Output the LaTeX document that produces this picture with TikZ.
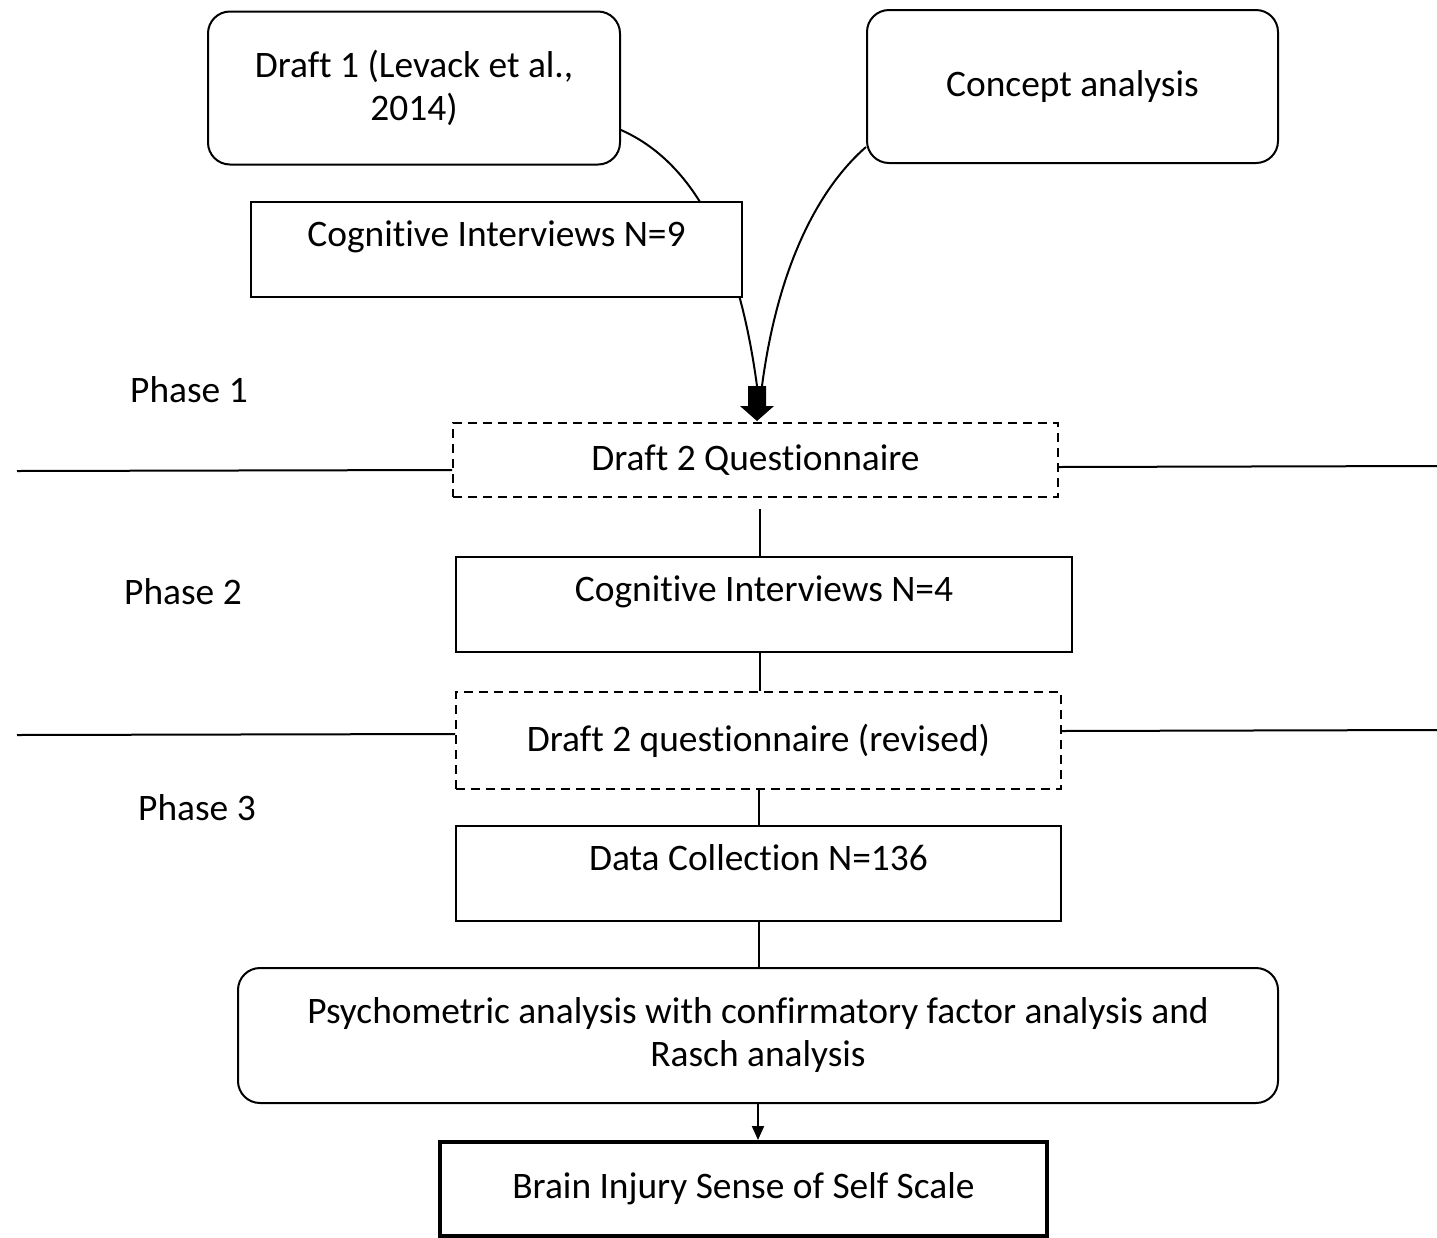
\documentclass[tikz,border=0pt]{standalone}
\usepackage{fontspec}
\setmainfont{Carlito}[Ligatures={NoCommon}]
\usetikzlibrary{arrows.meta,calc,backgrounds}

\begin{document}
\begin{tikzpicture}[x=0.5pt,y=0.5pt,yscale=-1,
  every node/.style={font=\fontsize{18.7pt}{21.5pt}\selectfont, inner sep=0pt},
  roundbox/.style={draw, line width=1pt, rounded corners=11pt, fill=white, align=center},
  plainbox/.style={draw, line width=1pt, fill=white, align=center},
  draftbox/.style={draw, line width=1pt, dash pattern=on 4.5pt off 3pt, fill=white, align=center},
  toptext/.style={text height=13pt, text depth=16.5pt},
  link/.style={line width=1pt}]
				\useasboundingbox (0,0) rectangle (1437,1238);

				% Boxes
				\node[roundbox, minimum width=206pt, minimum height=76.5pt] (draftOne) at (414,88) {Draft 1 (Levack et al.,\\2014)};
				\node[roundbox, minimum width=205.5pt, minimum height=76.5pt] (concept) at (1072.5,86.5) {Concept analysis};
				\node[plainbox, toptext, minimum width=245.5pt, minimum height=47.5pt] (ciNine) at (496.5,249.5) {Cognitive Interviews N=9};
				\node[draftbox, minimum width=302.5pt, minimum height=37pt] (draftTwo) at (755.5,460) {Draft 2 Questionnaire};
				\node[plainbox, toptext, minimum width=308pt, minimum height=47.5pt] (ciFour) at (764,604.5) {Cognitive Interviews N=4};
				\node[draftbox, minimum width=302.5pt, minimum height=48.5pt] (revised) at (758.5,740.5) {Draft 2 questionnaire (revised)};
				\node[plainbox, toptext, minimum width=302.5pt, minimum height=47.5pt] (dataColl) at (758.5,873.5) {Data Collection N=136};
				\node[roundbox, minimum width=520pt, minimum height=67.5pt] (psycho) at (758,1035.5) {Psychometric analysis with confirmatory factor analysis and\\Rasch analysis};
				\node[plainbox, line width=2pt, minimum width=303.5pt, minimum height=47pt] (bisss) at (743.5,1189) {Brain Injury Sense of Self Scale};

				% Phase labels
				\node (phaseOne) at (189,390) {Phase 1};
				\node (phaseTwo) at (183,592) {Phase 2};
				\node (phaseThree) at (197,808) {Phase 3};

				% Curves into the block arrow
				\coordinate (tip) at ($(draftTwo.north)+(1.5,-1)$);
				\begin{scope}[on background layer]
				\draw[link] ($(draftOne.east)+(0,42)$) .. controls (700,165) and (740,260) .. ($(tip)+(0,-35)$);
				\draw[link] ($(concept.west)+(0,60.5)$) .. controls (828,180) and (780,250) .. ($(tip)+(5,-35)$);
				\end{scope}
				\fill (tip) -- ++(-17,-15) -- ++(8,0) -- ++(0,-20) -- ++(18,0) -- ++(0,20) -- ++(8,0) -- cycle;

				% Phase borders
				\coordinate (leftA) at (17,471);
				\coordinate (rightA) at (1437,466);
				\coordinate (leftB) at (17,735);
				\coordinate (rightB) at (1437,730);
				\draw[link] (leftA) -- ($(draftTwo.west)+(0,10)$);
				\draw[link] ($(draftTwo.east)+(0,7)$) -- (rightA);
				\draw[link] (leftB) -- ($(revised.west)+(0,-6.5)$);
				\draw[link] ($(revised.east)+(0,-9.5)$) -- (rightB);

				% Vertical links
				\coordinate (gapTop) at ($(ciFour.north)+(-4,-47)$);
				\coordinate (ciFourFoot) at ($(ciFour.south)+(-4,0)$);
				\draw[link] (gapTop) -- (gapTop |- ciFour.north);
				\draw[link] (ciFourFoot) -- (ciFourFoot |- revised.north);
				\draw[link] (revised.south) -- (dataColl.north);
				\draw[link] (dataColl.south) -- (dataColl.south |- psycho.north);
				\draw[link,-{Triangle[width=6pt,length=7pt]}] (psycho.south) -- (psycho.south |- bisss.north);

\end{tikzpicture}
\end{document}
